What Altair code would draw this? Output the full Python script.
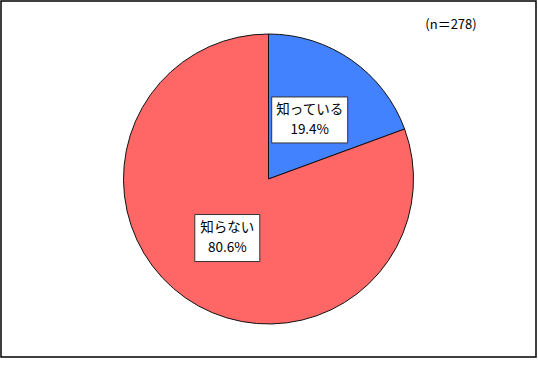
import math
import altair as alt
import pandas as pd

# ---- data ----
categories = ["知っている", "知らない"]
values = [19.4, 80.6]
value_labels = ["19.4%", "80.6%"]
note = "(n＝278)"

# ---- style ----
colors = ["#4282FF", "#FF6666"]
W, H = 535, 356
PIE_R = 145
LABEL_R = 72
box_half = {"知っている": (38, 23), "知らない": (32.5, 23.5)}
FONT = "Noto Sans CJK JP"
LINE_H = 20

total = sum(values)
rows = []
cum = 0.0
for i, (c, v, lab) in enumerate(zip(categories, values, value_labels)):
    mid = (cum + v / 2) / total * 2 * math.pi
    cum += v
    x = LABEL_R * math.sin(mid)
    y = LABEL_R * math.cos(mid)
    hw, hh = box_half[c]
    rows.append({
        "cat": c, "value": v, "order": i,
        "label": c + "\n" + lab,
        "x": x, "y": y,
        "x0": x - hw, "x1": x + hw, "y0": y - hh, "y1": y + hh,
    })
df = pd.DataFrame(rows)

xs = alt.Scale(domain=[-W / 2, W / 2], nice=False, zero=False)
ys = alt.Scale(domain=[-H / 2, H / 2], nice=False, zero=False)

pie = alt.Chart(df).mark_arc(outerRadius=PIE_R, stroke="#111111", strokeWidth=1).encode(
    theta=alt.Theta("value:Q", stack=True),
    color=alt.Color("cat:N", scale=alt.Scale(domain=categories, range=colors), legend=None),
    order=alt.Order("order:Q"),
)

boxes = alt.Chart(df).mark_rect(fill="white", stroke="#333333", strokeWidth=1).encode(
    x=alt.X("x0:Q", scale=xs, axis=None),
    x2="x1:Q",
    y=alt.Y("y0:Q", scale=ys, axis=None),
    y2="y1:Q",
)

texts = alt.Chart(df).mark_text(
    font=FONT, fontSize=13.5, lineBreak="\n", lineHeight=LINE_H,
    align="center", baseline="middle", color="#000000", dy=-LINE_H / 2,
).encode(
    x=alt.X("x:Q", scale=xs, axis=None),
    y=alt.Y("y:Q", scale=ys, axis=None),
    text="label:N",
)

note_layer = alt.Chart(pd.DataFrame({"t": [note]})).mark_text(
    font=FONT, fontSize=13, align="center", baseline="middle", color="#000000",
).encode(
    x=alt.value(450), y=alt.value(24), text="t:N",
)

chart = alt.layer(pie, boxes, texts, note_layer).properties(
    width=W, height=H,
    padding={"left": 1, "top": 1, "right": 2, "bottom": 26},
    background="white",
).configure_view(stroke="#000000", strokeWidth=1.5)

chart.save("out.html", embed_options={"renderer": "svg", "actions": False})
